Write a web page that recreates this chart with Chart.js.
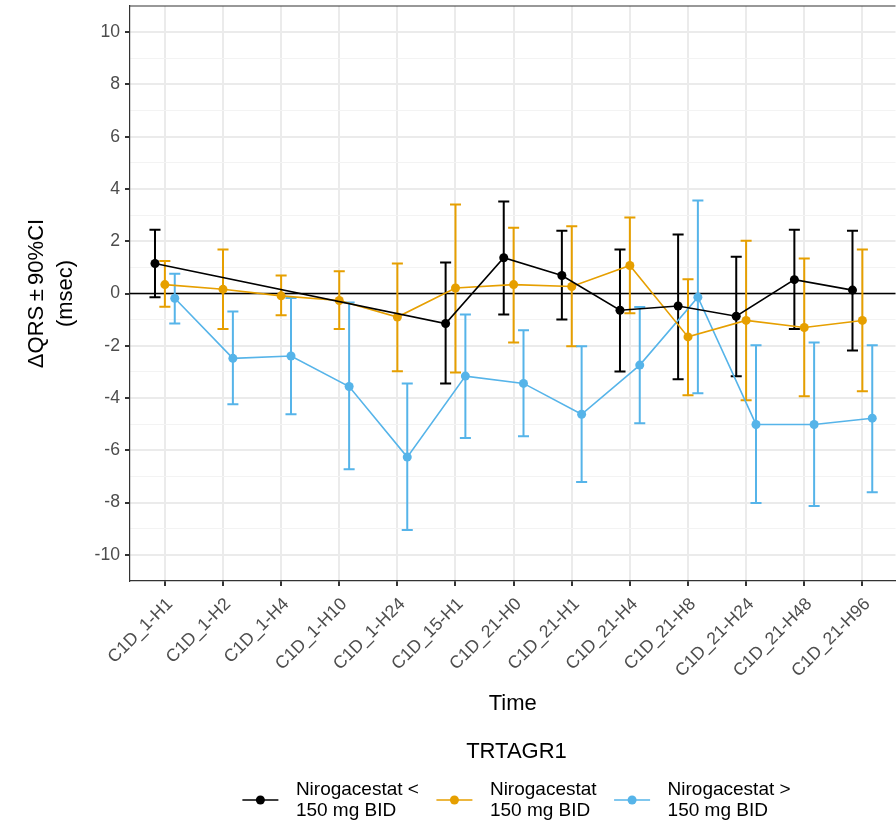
<!DOCTYPE html>
<html>
<head>
<meta charset="utf-8">
<script src="https://cdn.jsdelivr.net/npm/chart.js@4"></script>
<style>
  html, body { margin: 0; padding: 0; background: #fff; overflow: hidden; }
  #wrap { width: 900px; height: 827px; position: relative; }
</style>
</head>
<body>
<div id="wrap"><canvas id="myChart"></canvas></div>
<script>
// x-axis categories (visit / hour)
const timePoints = ['C1D_1-H1', 'C1D_1-H2', 'C1D_1-H4', 'C1D_1-H10', 'C1D_1-H24', 'C1D_15-H1',
    'C1D_21-H0', 'C1D_21-H1', 'C1D_21-H4', 'C1D_21-H8', 'C1D_21-H24', 'C1D_21-H48', 'C1D_21-H96'];

// y-axis tick values
const yTicks = [-10, -9, -8, -7, -6, -5, -4, -3, -2, -1, 0, 1, 2, 3, 4, 5, 6, 7, 8, 9, 10];

// group names (legend, two lines each)
const groupLow = ['Nirogacestat <', '150 mg BID'];
const groupMid = ['Nirogacestat', '150 mg BID'];
const groupHigh = ['Nirogacestat >', '150 mg BID'];

// Nirogacestat < 150 mg BID : mean and 90% CI
const lowMean  = [1.15, null, null, null, null, -1.15, 1.37, 0.69, -0.64, -0.48, -0.87, 0.53, 0.13];
const lowLower = [-0.14, null, null, null, null, -3.44, -0.80, -0.99, -2.98, -3.28, -3.17, -1.36, -2.18];
const lowUpper = [2.44, null, null, null, null, 1.19, 3.52, 2.40, 1.68, 2.26, 1.41, 2.44, 2.40];

// Nirogacestat 150 mg BID
const midMean  = [0.34, 0.16, -0.09, -0.27, -0.90, 0.21, 0.34, 0.27, 1.07, -1.66, -1.03, -1.30, -1.03];
const midLower = [-0.51, -1.36, -0.83, -1.36, -2.97, -3.02, -1.87, -2.02, -0.76, -3.89, -4.08, -3.93, -3.74];
const midUpper = [1.24, 1.68, 0.69, 0.85, 1.15, 3.41, 2.52, 2.57, 2.91, 0.55, 2.02, 1.34, 1.68];

// Nirogacestat > 150 mg BID
const highMean  = [-0.18, -2.48, -2.39, -3.56, -6.26, -3.16, -3.44, -4.62, -2.74, -0.14, -5.01, -5.01, -4.77];
const highLower = [-1.15, -4.24, -4.62, -6.72, -9.05, -5.53, -5.46, -7.21, -4.96, -3.82, -8.02, -8.13, -7.60];
const highUpper = [0.76, -0.69, -0.17, -0.34, -3.44, -0.80, -1.41, -2.02, -0.52, 3.56, -1.98, -1.87, -1.98];

const FONT = '"Liberation Sans", Arial, sans-serif';
const DODGE = 0.17;      // side shift of the groups, in category units
const CAP = 0.095;       // half width of error bar caps, in category units

Chart.defaults.font.family = FONT;
Chart.defaults.animation = false;

function makeSet(name, mean, lower, upper, color, dodge) {
    return {
        label: name.join(' '),
        legendLines: name,
        data: mean.map((v, i) => ({ x: i + dodge, y: v })),
        lower: lower,
        upper: upper,
        dodge: dodge,
        borderColor: color,
        backgroundColor: color,
        borderWidth: 1.6,
        pointRadius: 4.5,
        pointBorderWidth: 0,
        pointHoverRadius: 4.5,
        spanGaps: true,
        tension: 0
    };
}

// zero line, panel top border and error bars
const errorBars = {
    id: 'errorBars',
    beforeDatasetsDraw(chart) {
        const { ctx, chartArea, scales: { x, y } } = chart;
        ctx.save();
        ctx.strokeStyle = '#000';
        ctx.lineWidth = 1.5;
        const y0 = y.getPixelForValue(0);
        ctx.beginPath();
        ctx.moveTo(chartArea.left, y0);
        ctx.lineTo(chartArea.right, y0);
        ctx.stroke();

        ctx.strokeStyle = '#333333';
        ctx.lineWidth = 1.2;
        ctx.beginPath();
        ctx.moveTo(chartArea.left, chartArea.top);
        ctx.lineTo(chartArea.right, chartArea.top);
        ctx.stroke();

        chart.data.datasets.forEach(ds => {
            ctx.strokeStyle = ds.borderColor;
            ctx.lineWidth = 2;
            ds.lower.forEach((lo, i) => {
                const hi = ds.upper[i];
                if (lo == null || hi == null) return;
                const xc = i + ds.dodge;
                const px = x.getPixelForValue(xc);
                const pl = x.getPixelForValue(xc - CAP);
                const pr = x.getPixelForValue(xc + CAP);
                const yl = y.getPixelForValue(lo);
                const yh = y.getPixelForValue(hi);
                ctx.beginPath();
                ctx.moveTo(px, yl); ctx.lineTo(px, yh);
                ctx.moveTo(pl, yl); ctx.lineTo(pr, yl);
                ctx.moveTo(pl, yh); ctx.lineTo(pr, yh);
                ctx.stroke();
            });
        });
        ctx.restore();
    }
};

// ggplot style legend under the plot
const bottomLegend = {
    id: 'bottomLegend',
    afterDraw(chart) {
        const ctx = chart.ctx;
        const centerX = 516.5;
        ctx.save();
        ctx.fillStyle = '#000';
        ctx.textBaseline = 'middle';
        ctx.textAlign = 'center';
        ctx.font = '22px ' + FONT;
        ctx.fillText('TRTAGR1', centerX, 752);

        ctx.font = '19px ' + FONT;
        const keyW = 36, gap = 17.5;
        const items = chart.data.datasets.map(ds => {
            const w = Math.max(...ds.legendLines.map(t => ctx.measureText(t).width));
            return { ds, w };
        });
        const total = items.reduce((s, it) => s + keyW + gap + it.w, 0) + gap * (items.length - 1);
        let x = centerX - total / 2;
        const keyY = 800;
        items.forEach(it => {
            ctx.strokeStyle = it.ds.borderColor;
            ctx.fillStyle = it.ds.borderColor;
            ctx.lineWidth = 1.6;
            ctx.beginPath();
            ctx.moveTo(x, keyY);
            ctx.lineTo(x + keyW, keyY);
            ctx.stroke();
            ctx.beginPath();
            ctx.arc(x + keyW / 2, keyY, 4.5, 0, Math.PI * 2);
            ctx.fill();
            ctx.fillStyle = '#000';
            ctx.textAlign = 'left';
            ctx.fillText(it.ds.legendLines[0], x + keyW + gap, 790);
            ctx.fillText(it.ds.legendLines[1], x + keyW + gap, 811);
            x += keyW + gap + it.w + gap;
        });
        ctx.restore();
    }
};

const isMinor = c => c.tick && Math.abs(c.tick.value % 2) === 1;

new Chart(document.getElementById('myChart'), {
    type: 'line',
    data: {
        datasets: [
            makeSet(groupLow, lowMean, lowLower, lowUpper, '#000000', -DODGE),
            makeSet(groupMid, midMean, midLower, midUpper, '#E69F00', 0),
            makeSet(groupHigh, highMean, highLower, highUpper, '#56B4E9', DODGE)
        ]
    },
    options: {
        responsive: true,
        maintainAspectRatio: false,
        layout: { padding: { top: 6, right: 0, bottom: 107, left: 0 } },
        plugins: {
            legend: { display: false },
            tooltip: { enabled: false }
        },
        scales: {
            x: {
                type: 'linear',
                min: -0.6,
                max: 12.57,
                afterBuildTicks: s => { s.ticks = timePoints.map((t, i) => ({ value: i })); },
                afterFit: s => { s.height = 139; s.paddingLeft = 0; s.paddingRight = 0; },
                ticks: {
                    autoSkip: false,
                    minRotation: 45,
                    maxRotation: 45,
                    color: '#4D4D4D',
                    font: { size: 17.6 },
                    padding: 8,
                    labelOffset: 5,
                    callback: v => timePoints[v]
                },
                grid: { color: '#EBEBEB', lineWidth: 2, tickColor: '#333333', tickLength: 5 },
                border: { color: '#333333', width: 1.2 },
                title: {
                    display: true,
                    text: 'Time',
                    color: '#000',
                    font: { size: 22 },
                    padding: { top: 4, bottom: 3 }
                }
            },
            y: {
                min: -11,
                max: 11,
                afterBuildTicks: s => { s.ticks = yTicks.map(v => ({ value: v })); },
                afterFit: s => { s.width = 130; s.paddingTop = 0; s.paddingBottom = 0; },
                ticks: {
                    autoSkip: false,
                    color: '#4D4D4D',
                    font: { size: 17.6 },
                    padding: 5,
                    callback: v => (v % 2 === 0 ? String(v) : '')
                },
                grid: {
                    color: c => (isMinor(c) ? '#F3F3F3' : '#EBEBEB'),
                    lineWidth: c => (isMinor(c) ? 1 : 2),
                    tickColor: c => (isMinor(c) ? 'rgba(0,0,0,0)' : '#333333'),
                    tickLength: 5
                },
                border: { color: '#333333', width: 1.2 },
                title: {
                    display: true,
                    text: ['ΔQRS\u2009±\u200990%CI', '(msec)'],
                    color: '#000',
                    font: { size: 22, lineHeight: 1.3 },
                    padding: { top: 23, bottom: 0 }
                }
            }
        }
    },
    plugins: [errorBars, bottomLegend]
});
</script>
</body>
</html>
